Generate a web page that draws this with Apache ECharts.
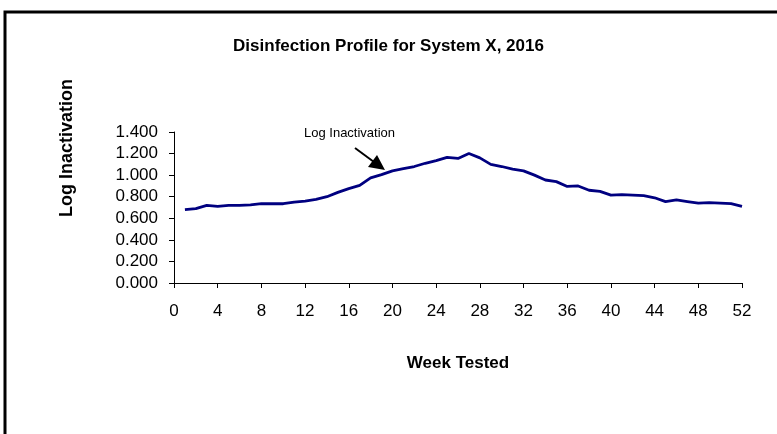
<!DOCTYPE html>
<html>
<head>
<meta charset="utf-8">
<script src="https://cdn.jsdelivr.net/npm/echarts@6/dist/echarts.min.js"></script>
<style>
html,body{margin:0;padding:0;background:#fff;}
#chart{width:777px;height:434px;}
</style>
</head>
<body>
<div id="chart"></div>
<script>
const weeks = [1,2,3,4,5,6,7,8,9,10,11,12,13,14,15,16,17,18,19,20,21,22,23,24,25,26,27,28,29,30,31,32,33,34,35,36,37,38,39,40,41,42,43,44,45,46,47,48,49,50,51,52];
const logInactivation = [0.68,0.69,0.72,0.71,0.72,0.72,0.725,0.735,0.735,0.735,0.75,0.76,0.775,0.80,0.84,0.875,0.905,0.975,1.005,1.04,1.06,1.08,1.11,1.135,1.165,1.155,1.20,1.16,1.10,1.08,1.055,1.04,1.0,0.955,0.94,0.895,0.90,0.86,0.85,0.815,0.82,0.815,0.81,0.79,0.755,0.77,0.755,0.74,0.745,0.74,0.735,0.71];
const titleText = "Disinfection Profile for System X, 2016";
const xName = "Week Tested";
const yName = "Log Inactivation";
const seriesLabel = "Log Inactivation";

const chart = echarts.init(document.getElementById('chart'));
const font = "'Liberation Sans', Arial, sans-serif";
chart.setOption({
  animation: false,
  backgroundColor: '#fff',
  title: {
    text: titleText, left: 'center', top: 33,
    textStyle: {fontFamily: font, fontSize: 17, fontWeight: 'bold', color: '#000'}
  },
  grid: {left: 174, top: 132, right: 35, bottom: 151, containLabel: false},
  xAxis: {
    type: 'value', min: 0, max: 52, interval: 4,
    name: xName, nameLocation: 'middle', nameGap: 72,
    nameTextStyle: {fontFamily: font, fontSize: 17, fontWeight: 'bold', color: '#000'},
    axisLine: {lineStyle: {color: '#000', width: 1}},
    axisTick: {length: 5, lineStyle: {color: '#000'}},
    axisLabel: {fontFamily: font, fontSize: 17, color: '#000', margin: 20},
    splitLine: {show: false}
  },
  yAxis: {
    type: 'value', min: 0, max: 1.4, interval: 0.2,
    axisLine: {show: true, lineStyle: {color: '#000', width: 1}},
    axisTick: {show: true, length: 5, lineStyle: {color: '#000'}},
    axisLabel: {fontFamily: font, fontSize: 17, color: '#000', margin: 16,
      formatter: v => v.toFixed(3)},
    splitLine: {show: false}
  },
  series: [{
    type: 'line', name: seriesLabel,
    data: weeks.map((w, i) => [w, logInactivation[i]]),
    symbol: 'none', smooth: false,
    lineStyle: {color: '#000080', width: 2.8}
  }],
  graphic: [
    {type: 'rect', shape: {x: 5, y: 12, width: 900, height: 600},
     style: {fill: 'none', stroke: '#000', lineWidth: 3}, z: 100},
    {type: 'text', x: 67, y: 148, rotation: Math.PI / 2, z: 100,
     style: {text: yName, fontFamily: font, fontSize: 18, fontWeight: 'bold', fill: '#000',
       textAlign: 'center', textVerticalAlign: 'middle'}},
    {type: 'text', x: 304, y: 133, z: 100,
     style: {text: seriesLabel, fontFamily: font, fontSize: 13, fill: '#000',
       textAlign: 'left', textVerticalAlign: 'middle'}},
    {type: 'line', shape: {x1: 355, y1: 148, x2: 374, y2: 162}, z: 100,
     style: {stroke: '#000', lineWidth: 2}},
    {type: 'polygon', shape: {points: [[385, 170], [368, 167], [377, 155]]}, z: 100,
     style: {fill: '#000'}}
  ]
});
</script>
</body>
</html>
